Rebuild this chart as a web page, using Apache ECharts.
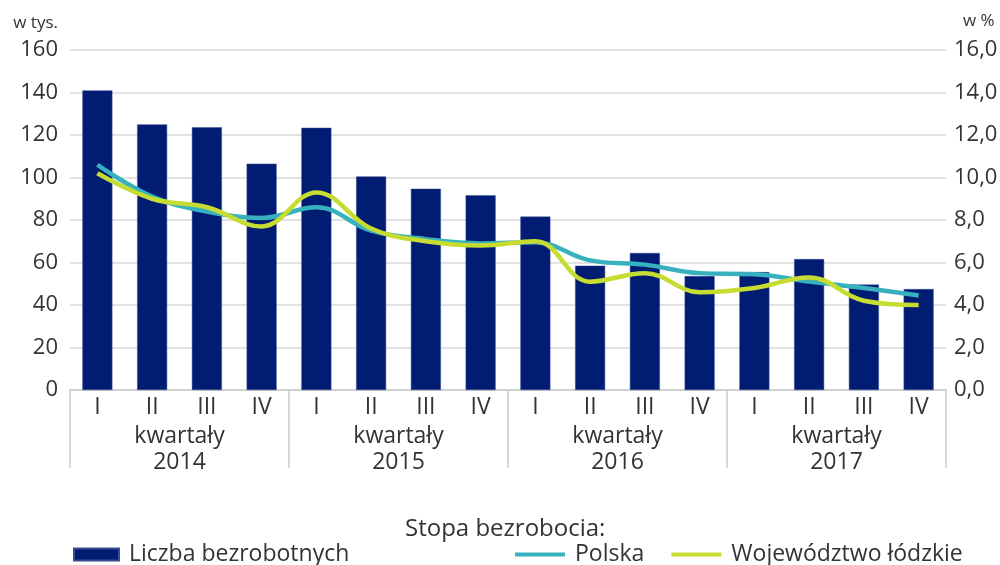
<!DOCTYPE html>
<html>
<head>
<meta charset="utf-8">
<script src="https://cdn.jsdelivr.net/npm/echarts@6/dist/echarts.min.js"></script>
<style>html,body{margin:0;padding:0;background:#fff}#c{width:1000px;height:565px}</style>
</head>
<body>
<div id="c"></div>
<script>
var quarters = ['I','II','III','IV','I','II','III','IV','I','II','III','IV','I','II','III','IV'];
var years = ['kwartały\n2014','kwartały\n2015','kwartały\n2016','kwartały\n2017'];
var unemployed = [141, 125, 123.6, 106.5, 123.4, 100.5, 94.7, 91.6, 81.6, 58.5, 64.5, 53.6, 55.5, 61.6, 49.6, 47.5];
var ratePolska = [10.6, 9.1, 8.4, 8.1, 8.6, 7.5, 7.1, 6.9, 6.95, 6.1, 5.9, 5.5, 5.45, 5.1, 4.8, 4.45];
var rateLodzkie = [10.2, 9.0, 8.6, 7.7, 9.3, 7.6, 7.0, 6.8, 7.0, 5.1, 5.5, 4.6, 4.8, 5.3, 4.2, 4.0];
var leftTicks = {min: 0, max: 160, interval: 20};
var rightTicks = {min: 0, max: 16, interval: 2};

var FONT = 'Open Sans';
var TXT = '#333333';
var chart = echarts.init(document.getElementById('c'), null, {renderer: 'canvas'});
chart.setOption({
  animation: false,
  textStyle: {fontFamily: FONT},
  grid: {left: 70, right: 54, top: 50, bottom: 175, containLabel: false, outerBoundsMode: 'none'},
  title: {
    text: 'Stopa bezrobocia:', left: 400, top: 512,
    textStyle: {fontFamily: FONT, fontSize: 24, fontWeight: 'normal', color: TXT}
  },
  legend: [
    {
      data: [{name: 'Liczba bezrobotnych', icon: 'rect'}],
      left: 68, top: 538, itemWidth: 45, itemHeight: 12,
      textStyle: {fontFamily: FONT, fontSize: 23, color: TXT, padding: [0, 0, 0, 5]}
    },
    {
      data: [{name: 'Polska', icon: 'rect'}, {name: 'Województwo łódzkie', icon: 'rect'}],
      left: 510, top: 538, itemWidth: 50, itemHeight: 4, itemGap: 27,
      textStyle: {fontFamily: FONT, fontSize: 23, color: TXT, padding: [0, 0, 0, 5]}
    }
  ],
  xAxis: [
    {
      type: 'category', data: quarters, position: 'bottom',
      axisLine: {show: true, lineStyle: {color: '#cccccc', width: 1.5}},
      axisTick: {show: false},
      axisLabel: {fontFamily: FONT, fontSize: 23, color: TXT, margin: 6}
    },
    {
      type: 'category', data: years, position: 'bottom',
      axisLine: {show: false},
      axisTick: {show: true, length: 78, lineStyle: {color: '#cccccc', width: 1.5}},
      axisLabel: {fontFamily: FONT, fontSize: 23, color: TXT, margin: 33, lineHeight: 26}
    }
  ],
  yAxis: [
    {
      type: 'value', min: leftTicks.min, max: leftTicks.max, interval: leftTicks.interval,
      name: 'w tys.', nameLocation: 'end', nameGap: 18,
      nameTextStyle: {fontFamily: FONT, fontSize: 17, color: TXT, align: 'right', padding: [0, 12, 0, 0]},
      axisLine: {show: false}, axisTick: {show: false},
      axisLabel: {fontFamily: FONT, fontSize: 22, color: TXT, margin: 12},
      splitLine: {show: true, lineStyle: {color: '#d9d9d9', width: 1.5}}
    },
    {
      type: 'value', min: rightTicks.min, max: rightTicks.max, interval: rightTicks.interval,
      name: 'w %', nameLocation: 'end', nameGap: 20,
      nameTextStyle: {fontFamily: FONT, fontSize: 17, color: TXT, align: 'left', padding: [0, 0, 0, 17]},
      axisLine: {show: false}, axisTick: {show: false},
      axisLabel: {fontFamily: FONT, fontSize: 22, color: TXT, margin: 8,
        formatter: function (v) { return v.toFixed(1).replace('.', ','); }},
      splitLine: {show: false}
    }
  ],
  series: [
    {
      name: 'Liczba bezrobotnych', type: 'bar', xAxisIndex: 0, yAxisIndex: 0,
      data: unemployed, barWidth: 30,
      itemStyle: {color: '#001c73', borderColor: '#3a4d92', borderWidth: 0.5}
    },
    {
      name: 'Polska', type: 'line', xAxisIndex: 0, yAxisIndex: 1,
      data: ratePolska, smooth: 0.4, symbol: 'none',
      lineStyle: {color: '#38b1be', width: 4.5}, itemStyle: {color: '#38b1be'}
    },
    {
      name: 'Województwo łódzkie', type: 'line', xAxisIndex: 0, yAxisIndex: 1,
      data: rateLodzkie, smooth: 0.4, symbol: 'none',
      lineStyle: {color: '#c6dc30', width: 4.5}, itemStyle: {color: '#c6dc30'}
    }
  ]
});
</script>
</body>
</html>
